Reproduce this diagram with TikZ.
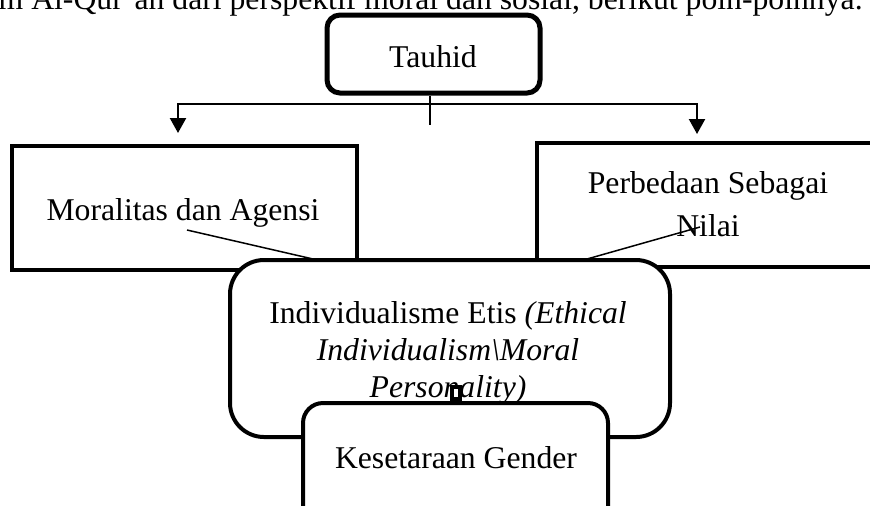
\documentclass[tikz,border=0pt]{standalone}
\usepackage{fontspec}
\setmainfont{Liberation Serif}
\usepackage{tikz}
\usetikzlibrary{arrows.meta}
\usetikzlibrary{positioning}

\tikzset{
    kotak/.style={draw,line width=2pt,fill=white,inner sep=0pt},
    bulat/.style={kotak,rounded corners=8pt},
    teks/.style={font=\fontsize{15.85}{18.5}\selectfont,anchor=base,inner sep=0pt},
    garis/.style={line width=1.1pt},
    tipis/.style={line width=0.75pt},
    panah/.style={garis,{Triangle[length=7.5pt,width=8pt]}-{Triangle[length=7.5pt,width=8pt]}}
}

\begin{document}
\begin{tikzpicture}[x=0.5pt,y=-0.5pt]
            \useasboundingbox (0,0) rectangle (870,505);
            \clip (0,0) rectangle (870,505);

            \node[teks,anchor=base east] (atas) at (863,9) {m Al-Qur’an dari perspektif moral dan sosial, berikut poin-poinnya.};

            \node[bulat,line width=2.5pt,rounded corners=6.5pt,minimum width=106.5pt,minimum height=39pt] (tauhid) at (433.5,54) {};
            \node[teks] (tauhidteks) at (433,67) {Tauhid};

            \coordinate (cabang) at (430,104);
            \coordinate (ujung) at (430,125);
            \coordinate (kiri) at (178,133);
            \coordinate (kanan) at (697,134);

            \draw[garis] (tauhid.south -| ujung) -- (ujung);
            \draw[panah] (kiri) -- (kiri |- cabang) -- (kanan |- cabang) -- (kanan);

            \node[kotak,minimum width=172.5pt,minimum height=62pt] (moral) at (184.5,208) {};
            \node[kotak,minimum width=174pt,minimum height=62pt] (beda) at (711,205) {};

            \node[teks] (moralteks) at (183,220) {Moralitas dan Agensi};
            \node[teks,align=center,font=\fontsize{15.85}{21.5}\selectfont] (bedateks) at (708,236) {Perbedaan Sebagai\\Nilai};

            \coordinate (moralujung) at (187,230);
            \coordinate (bedaujung) at (700,227);
            \coordinate (etiskiri) at (313,259);
            \coordinate (etiskanan) at (587,259);

            \draw[tipis] (moralujung) -- (etiskiri);
            \draw[tipis] (bedaujung) -- (etiskanan);

            \node[bulat,rounded corners=17pt,minimum width=220pt,minimum height=88.5pt] (etis) at (450,348.5) {};
            \node[teks,align=center] (etisteks) at (448,397) {Individualisme Etis \textit{(Ethical}\\\textit{Individualism\textbackslash Moral}\\\textit{Personality)}};

            \node[bulat,rounded corners=10pt,minimum width=152.5pt,minimum height=63.5pt] (gender) at (455.5,466.5) {};
            \node[teks] (genderteks) at (456,468) {Kesetaraan Gender};

            \node[kotak,line width=2pt,minimum width=4pt,minimum height=6pt,above=0pt of gender] (sambung) {};
\end{tikzpicture}
\end{document}
